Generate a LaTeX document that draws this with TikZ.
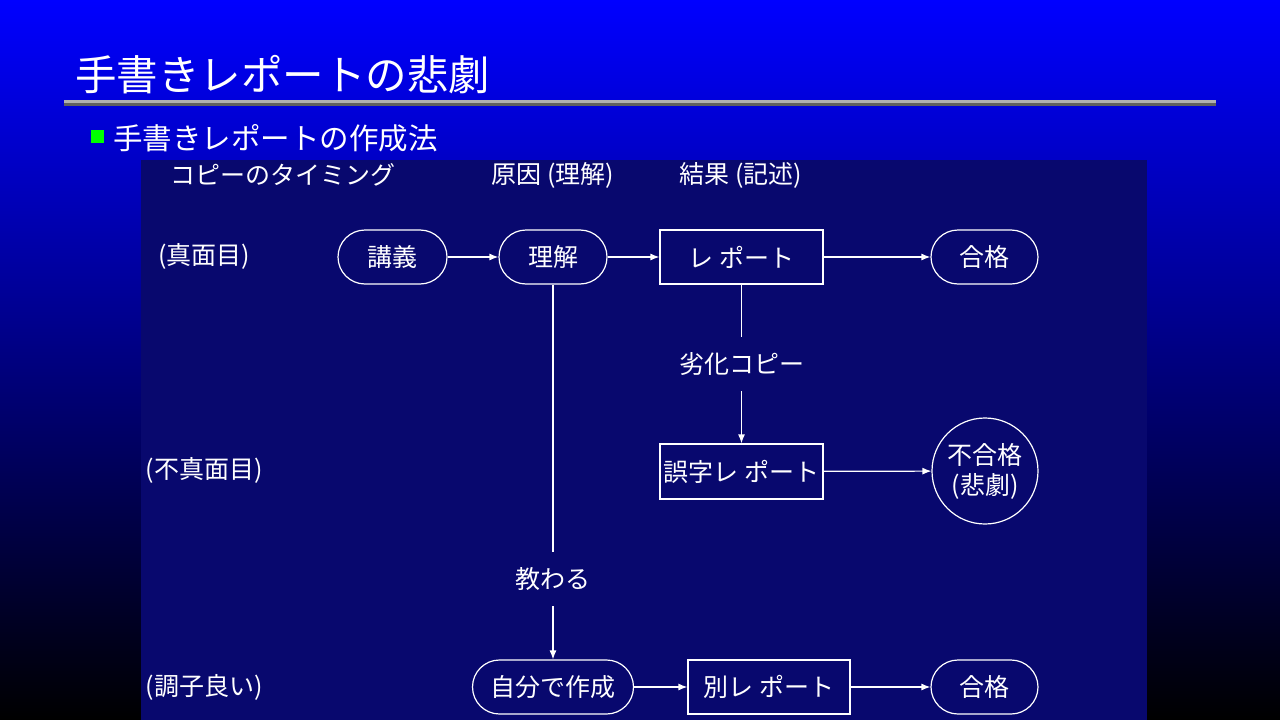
\documentclass[tikz,border=0pt]{standalone}
\usepackage{fontspec}
\newfontfamily\jp{Noto Sans CJK JP}
\usetikzlibrary{arrows.meta}
\definecolor{panel}{RGB}{8,8,110}
\definecolor{rulelight}{RGB}{176,176,176}
\definecolor{ruledark}{RGB}{96,96,96}
\definecolor{bullet}{RGB}{0,255,0}
\tikzset{
  txt/.style={text=white, font=\jp\fontsize{25}{30}\selectfont, inner sep=0pt},
  stadium/.style={txt, draw=white, line width=1.2pt, rounded corners=27pt, minimum height=54pt},
  boxnode/.style={txt, draw=white, line width=1.2pt, minimum height=54pt},
  circnode/.style={txt, draw=white, line width=1.2pt, circle, minimum size=106pt, align=center},
  lbl/.style={txt, minimum height=54pt},
  conn/.style={draw=white, line width=1.2pt},
  arr/.style={conn, -{Latex[length=9pt,width=7pt]}}
}
\begin{document}
\begin{tikzpicture}[x=1pt,y=-1pt]
\useasboundingbox (0,0) rectangle (1280,720);
\shade[top color={rgb,255:red,0;green,0;blue,255}, bottom color=black] (0,0) rectangle (1280,720);
% title
\node[anchor=west, text=white, font=\jp\fontsize{41.5}{50}\selectfont, inner sep=0pt] (title) at (75,75) {手書きレポートの悲劇};
\fill[rulelight] (64,100) rectangle (1216,103);
\fill[ruledark] (64,103) rectangle (1216,105.5);
% bullet
\fill[bullet] (91,130) rectangle (104,143);
\node[anchor=west, text=white, font=\jp\fontsize{29.5}{35}\selectfont, inner sep=0pt] (sub) at (113,138) {手書きレポートの作成法};
% panel
\fill[panel] (141,160) rectangle (1147,720);
% headers
\node[txt] (h1) at (283,175) {コピーのタイミング};
\node[txt] (h2) at (553,175) {原因 (理解)};
\node[txt] (h3) at (741,175) {結果 (記述)};
% row labels
\node[txt] (r1) at (204,256) {(真面目)};
\node[txt] (r2) at (204,470) {(不真面目)};
\node[txt] (r3) at (204,687) {(調子良い)};
% row 1
\node[stadium, minimum width=109pt] (lec) at (392.5,257) {講義};
\node[stadium, minimum width=108pt] (und) at (553,257) {理解};
\node[boxnode, minimum width=163pt] (rep) at (741.5,257) {レ ポート};
\node[stadium, minimum width=107pt] (pass1) at (984.5,257) {合格};
% row 2
\node[lbl] (deg) at (741.5,364) {劣化コピー};
\node[boxnode, minimum width=163pt, minimum height=55pt] (err) at (741.5,471.5) {誤字レ ポート};
\node[circnode] (fail) at (985,471) {不合格\\(悲劇)};
% row 3
\node[lbl] (taught) at (553,579) {教わる};
\node[stadium, minimum width=161pt] (self) at (553,687) {自分で作成};
\node[boxnode, minimum width=162pt] (other) at (769,687) {別レ ポート};
\node[stadium, minimum width=107pt] (pass2) at (984.5,687) {合格};
% connectors
\draw[arr] (lec) -- (und);
\draw[arr] (und) -- (rep);
\draw[arr] (rep) -- (pass1);
\draw[conn] (rep.south) -- (deg.north);
\draw[arr] (deg.south) -- (err.north);
\draw[arr] (err) -- (fail);
\draw[conn] (und.south) -- (taught.north);
\draw[arr] (taught.south) -- (self.north);
\draw[arr] (self) -- (other);
\draw[arr] (other) -- (pass2);
\end{tikzpicture}
\end{document}
